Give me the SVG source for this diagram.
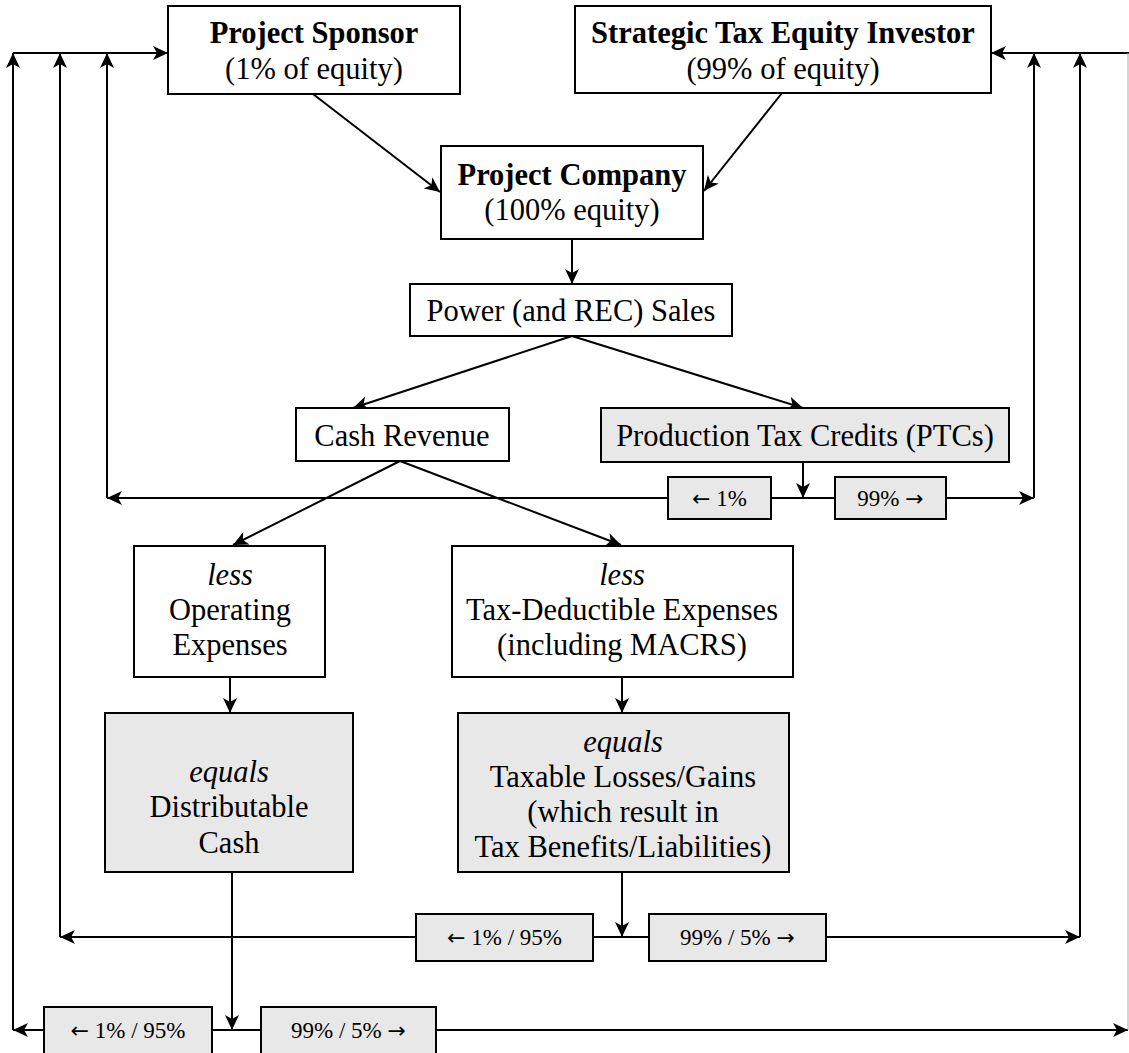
<svg xmlns="http://www.w3.org/2000/svg" width="1129" height="1053" viewBox="0 0 1129 1053">
<style>
.box{fill:#fff;stroke:#000;stroke-width:2}
.gbox{fill:#e8e8e8;stroke:#000;stroke-width:2}
text{font-family:"Liberation Serif","Times New Roman",serif;font-size:30.5px;fill:#000;text-anchor:middle}
.b{font-weight:bold}
.i{font-style:italic}
.s{font-size:23px}
.ar{font-family:"DejaVu Sans",sans-serif;font-size:22px}
.c{fill:none;stroke:#000;stroke-width:2}
.a{marker-end:url(#ah)}
</style>
<defs>
<marker id="ah" markerWidth="16" markerHeight="14" refX="15" refY="7" orient="auto" markerUnits="userSpaceOnUse">
<path d="M0,0 L15,7 L0,14 L4,7 z" fill="#000"/>
</marker>
</defs>
<rect width="1129" height="1053" fill="#fff"/>
<g id="connectors">
<line class="c a" x1="13" y1="53" x2="168" y2="53"/>
<line class="c a" x1="1129" y1="53" x2="991" y2="53"/>
<line class="c a" x1="313" y1="94" x2="440" y2="192"/>
<line class="c a" x1="782" y1="93" x2="704" y2="191"/>
<line class="c a" x1="572" y1="239" x2="572" y2="284"/>
<line class="c a" x1="572" y1="336" x2="353" y2="408"/>
<line class="c a" x1="572" y1="336" x2="803" y2="408"/>
<line class="c a" x1="803" y1="462" x2="803" y2="498"/>
<line class="c a" x1="668" y1="498" x2="107" y2="498"/>
<line class="c a" x1="107" y1="498" x2="107" y2="53"/>
<line class="c" x1="771" y1="498" x2="835" y2="498"/>
<line class="c a" x1="946" y1="498" x2="1034" y2="498"/>
<line class="c a" x1="1034" y1="498" x2="1034" y2="53"/>
<line class="c a" x1="400" y1="461" x2="233" y2="545"/>
<line class="c a" x1="400" y1="461" x2="621" y2="545"/>
<line class="c a" x1="230" y1="677" x2="230" y2="713"/>
<line class="c a" x1="622" y1="677" x2="622" y2="713"/>
<line class="c a" x1="622" y1="872" x2="622" y2="937"/>
<line class="c a" x1="416" y1="937" x2="60" y2="937"/>
<line class="c a" x1="60" y1="937" x2="60" y2="53"/>
<line class="c" x1="593" y1="937" x2="649" y2="937"/>
<line class="c a" x1="826" y1="937" x2="1080" y2="937"/>
<line class="c a" x1="1080" y1="937" x2="1080" y2="53"/>
<line class="c a" x1="232" y1="872" x2="232" y2="1030"/>
<line class="c a" x1="44" y1="1030" x2="13" y2="1030"/>
<line class="c a" x1="13" y1="1030" x2="13" y2="53"/>
<line class="c" x1="212" y1="1030" x2="261" y2="1030"/>
<line class="c a" x1="436" y1="1030" x2="1128" y2="1030"/>
<line x1="1128" y1="1030" x2="1128" y2="53" stroke="#aaa" stroke-width="1"/>
</g>
<g id="sponsor">
<rect class="box" x="168" y="6" width="292" height="88"/>
<text class="b" x="314" y="43">Project Sponsor</text>
<text x="314" y="79">(1% of equity)</text>
</g>
<g id="investor">
<rect class="box" x="575" y="6" width="416" height="87"/>
<text class="b" x="783" y="43">Strategic Tax Equity Investor</text>
<text x="783" y="79">(99% of equity)</text>
</g>
<g id="company">
<rect class="box" x="441" y="146" width="262" height="93"/>
<text class="b" x="572" y="185">Project Company</text>
<text x="572" y="220">(100% equity)</text>
</g>
<g id="sales">
<rect class="box" x="410" y="284" width="322" height="52"/>
<text x="571" y="321">Power (and REC) Sales</text>
</g>
<g id="cash">
<rect class="box" x="296" y="408" width="213" height="53"/>
<text x="402" y="446">Cash Revenue</text>
</g>
<g id="ptc">
<rect class="gbox" x="601" y="408" width="408" height="54"/>
<text x="805" y="446">Production Tax Credits (PTCs)</text>
</g>
<g id="ptc-left">
<rect class="gbox" x="668" y="477" width="103" height="42"/>
<text class="s" x="719.5" y="506"><tspan class="ar">←</tspan> 1%</text>
</g>
<g id="ptc-right">
<rect class="gbox" x="835" y="477" width="111" height="42"/>
<text class="s" x="890.5" y="506">99% <tspan class="ar">→</tspan></text>
</g>
<g id="opex">
<rect class="box" x="134" y="546" width="191" height="131"/>
<text class="i" x="230" y="585">less</text>
<text x="230" y="620">Operating</text>
<text x="230" y="655">Expenses</text>
</g>
<g id="taxded">
<rect class="box" x="452" y="546" width="341" height="131"/>
<text class="i" x="622" y="585">less</text>
<text x="622" y="620">Tax-Deductible Expenses</text>
<text x="622" y="655">(including MACRS)</text>
</g>
<g id="distcash">
<rect class="gbox" x="105" y="713" width="248" height="159"/>
<text class="i" x="229" y="782">equals</text>
<text x="229" y="817">Distributable</text>
<text x="229" y="853">Cash</text>
</g>
<g id="taxable">
<rect class="gbox" x="458" y="713" width="331" height="159"/>
<text class="i" x="623" y="752">equals</text>
<text x="623" y="787">Taxable Losses/Gains</text>
<text x="623" y="822">(which result in</text>
<text x="623" y="857">Tax Benefits/Liabilities)</text>
</g>
<g id="tax-left">
<rect class="gbox" x="416" y="914" width="177" height="47"/>
<text class="s" x="504.5" y="945"><tspan class="ar">←</tspan> 1% / 95%</text>
</g>
<g id="tax-right">
<rect class="gbox" x="649" y="914" width="177" height="47"/>
<text class="s" x="737.5" y="945">99% / 5% <tspan class="ar">→</tspan></text>
</g>
<g id="cash-left">
<rect class="gbox" x="44" y="1007" width="168" height="48"/>
<text class="s" x="128" y="1038"><tspan class="ar">←</tspan> 1% / 95%</text>
</g>
<g id="cash-right">
<rect class="gbox" x="261" y="1007" width="175" height="48"/>
<text class="s" x="348.5" y="1038">99% / 5% <tspan class="ar">→</tspan></text>
</g>
</svg>
